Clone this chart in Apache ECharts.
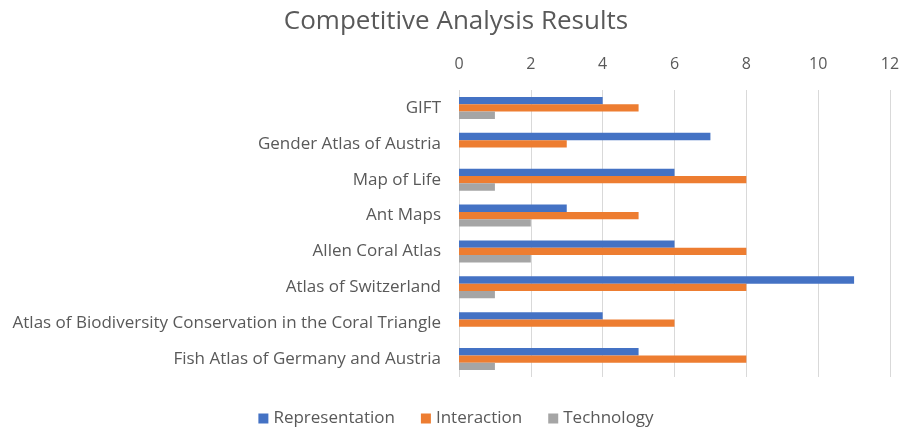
<!DOCTYPE html>
<html><head><meta charset="utf-8">
<script src="https://cdn.jsdelivr.net/npm/echarts@6/dist/echarts.min.js"></script>
<style>html,body{margin:0;padding:0;background:#fff}#c{width:912px;height:431px}</style>
</head><body><div id="c"></div>
<script>
const categories = ["GIFT","Gender Atlas of Austria","Map of Life","Ant Maps","Allen Coral Atlas","Atlas of Switzerland","Atlas of Biodiversity Conservation in the Coral Triangle","Fish Atlas of Germany and Austria"];
const representation = [4,7,6,3,6,11,4,5];
const interaction = [5,3,8,5,8,8,6,8];
const technology = [1,0,1,2,2,1,0,1];
const seriesNames = ["Representation","Interaction","Technology"];
const colors = ["#4472C4","#ED7D31","#A5A5A5"];
const FONT = "Open Sans";
const chart = echarts.init(document.getElementById('c'));
chart.setOption({
  animation:false,
  title:{text:"Competitive Analysis Results",left:'center',top:4,textStyle:{fontFamily:FONT,fontSize:26,fontWeight:'normal',color:'#595959'}},
  legend:{data:seriesNames,bottom:-1,left:'center',itemWidth:10,itemHeight:10,itemGap:26,icon:'rect',textStyle:{fontFamily:FONT,fontSize:17,color:'#595959'}},
  grid:{left:459,right:22,top:90,height:287,containLabel:false},
  xAxis:{type:'value',position:'top',min:0,max:12,interval:2,
    axisLabel:{fontFamily:FONT,fontSize:16,color:'#595959',margin:18},
    axisLine:{show:false},axisTick:{show:false},
    splitLine:{lineStyle:{color:'#D9D9D9',width:1}}},
  yAxis:{type:'category',data:categories,inverse:true,
    axisLabel:{fontFamily:FONT,fontSize:17,color:'#595959',margin:18},
    axisLine:{show:false},axisTick:{show:false}},
  series:[
    {name:seriesNames[0],type:'bar',data:representation,itemStyle:{color:colors[0]},barGap:'0%',barCategoryGap:'39%'},
    {name:seriesNames[1],type:'bar',data:interaction,itemStyle:{color:colors[1]},barGap:'0%',barCategoryGap:'39%'},
    {name:seriesNames[2],type:'bar',data:technology,itemStyle:{color:colors[2]},barGap:'0%',barCategoryGap:'39%'}
  ]
});
</script></body></html>
